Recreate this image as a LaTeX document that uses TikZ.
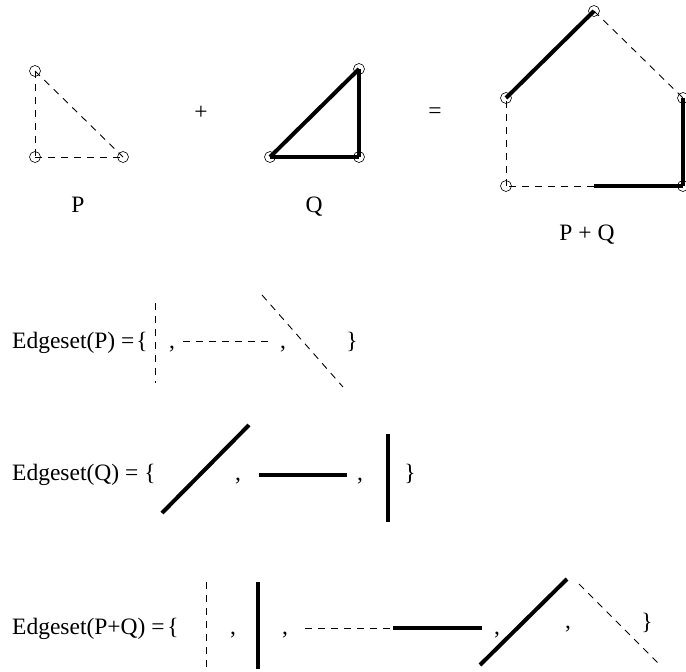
\documentclass[tikz,border=0pt]{standalone}
\usepackage{fontspec}
\setmainfont{Liberation Serif}
\begin{document}
\begin{tikzpicture}[x=1pt,y=-1pt,
  vtx/.style={circle,draw,line width=0.6pt,minimum size=11pt,inner sep=0pt},
  dsh/.style={line width=0.9pt,dash pattern=on 7pt off 6pt},
  thk/.style={line width=4pt},
  lbl/.style={font=\fontsize{23.5}{28}\selectfont,anchor=base,inner sep=0pt},
  lblw/.style={lbl,anchor=base west}]
\useasboundingbox (0,0) rectangle (686,672);
% ---- P ----
\node[vtx] (p1) at (35,71) {};
\node[vtx] (p2) at (35,157) {};
\node[vtx] (p3) at (123,157) {};
\draw[dsh] (p1.center) -- (p2.center);
\draw[dsh] (p2.center) -- (p3.center);
\draw[dsh] (p1.center) -- (p3.center);
\node[lbl] (lp) at (78,212) {P};
\node[lbl] (plus) at (201,119) {+};
% ---- Q ----
\node[vtx] (q1) at (270,157) {};
\node[vtx] (q2) at (359,157) {};
\node[vtx] (q3) at (359,69) {};
\draw[thk] (q1.center) -- (q2.center);
\draw[thk] (q2.center) -- (q3.center);
\draw[thk] (q1.center) -- (q3.center);
\node[lbl] (lq) at (314,212) {Q};
\node[lbl] (eq) at (435,118) {=};
% ---- P+Q ----
\node[vtx] (s1) at (506,98) {};
\node[vtx] (s2) at (594,11) {};
\node[vtx] (s3) at (683,98) {};
\node[vtx] (s4) at (683,186) {};
\node[vtx] (s5) at (506,186) {};
\coordinate (sm) at (594,186);
\draw[thk] (s1.center) -- (s2.center);
\draw[dsh] (s2.center) -- (s3.center);
\draw[thk] (s3.center) -- (s4.center);
\draw[thk] (s4.center) -- (sm);
\draw[dsh] (sm) -- (s5.center);
\draw[dsh] (s5.center) -- (s1.center);
\node[lbl] (lpq) at (587,240) {P + Q};
% ---- Edgeset(P) ----
\node[lblw] (ep) at (12,348) {Edgeset(P) =};
\node[lbl] (ep0) at (142,348) {\{};
\coordinate (a1) at (155,303); \coordinate (a2) at (155,383);
\draw[dsh] (a1) -- (a2);
\node[lbl] (epc1) at (172,348) {,};
\coordinate (b1) at (183,341); \coordinate (b2) at (270,341);
\draw[dsh] (b1) -- (b2);
\node[lbl] (epc2) at (283,348) {,};
\coordinate (c1) at (262,295); \coordinate (c2) at (343,387);
\draw[dsh] (c1) -- (c2);
\node[lbl] (ep9) at (352,348) {\}};
% ---- Edgeset(Q) ----
\node[lblw] (eq0) at (12,480) {Edgeset(Q) =};
\node[lbl] (eqb) at (150,480) {\{};
\coordinate (d1) at (162,513); \coordinate (d2) at (249,425);
\draw[thk] (d1) -- (d2);
\node[lbl] (eqc1) at (238,480) {,};
\coordinate (e1) at (259,475); \coordinate (e2) at (347,475);
\draw[thk] (e1) -- (e2);
\node[lbl] (eqc2) at (360,480) {,};
\coordinate (f1) at (388,434); \coordinate (f2) at (388,522);
\draw[thk] (f1) -- (f2);
\node[lbl] (eq9) at (410,480) {\}};
% ---- Edgeset(P+Q) ----
\node[lblw] (er0) at (12,634) {Edgeset(P+Q) =};
\node[lbl] (erb) at (173,634) {\{};
\coordinate (g1) at (206,582); \coordinate (g2) at (206,667);
\draw[dsh] (g1) -- (g2);
\node[lbl] (erc1) at (233,634) {,};
\coordinate (h1) at (258,582); \coordinate (h2) at (258,669);
\draw[thk] (h1) -- (h2);
\node[lbl] (erc2) at (285,634) {,};
\coordinate (i1) at (305,628); \coordinate (i2) at (393,628); \coordinate (i3) at (482,628);
\draw[dsh] (i1) -- (i2);
\draw[thk] (i2) -- (i3);
\node[lbl] (erc3) at (497,634) {,};
\coordinate (j1) at (480,665); \coordinate (j2) at (567,579);
\draw[thk] (j1) -- (j2);
\node[lbl] (erc4) at (568,628) {,};
\coordinate (k1) at (579,584); \coordinate (k2) at (660,665);
\draw[dsh] (k1) -- (k2);
\node[lbl] (er9) at (647,629) {\}};
\end{tikzpicture}
\end{document}
